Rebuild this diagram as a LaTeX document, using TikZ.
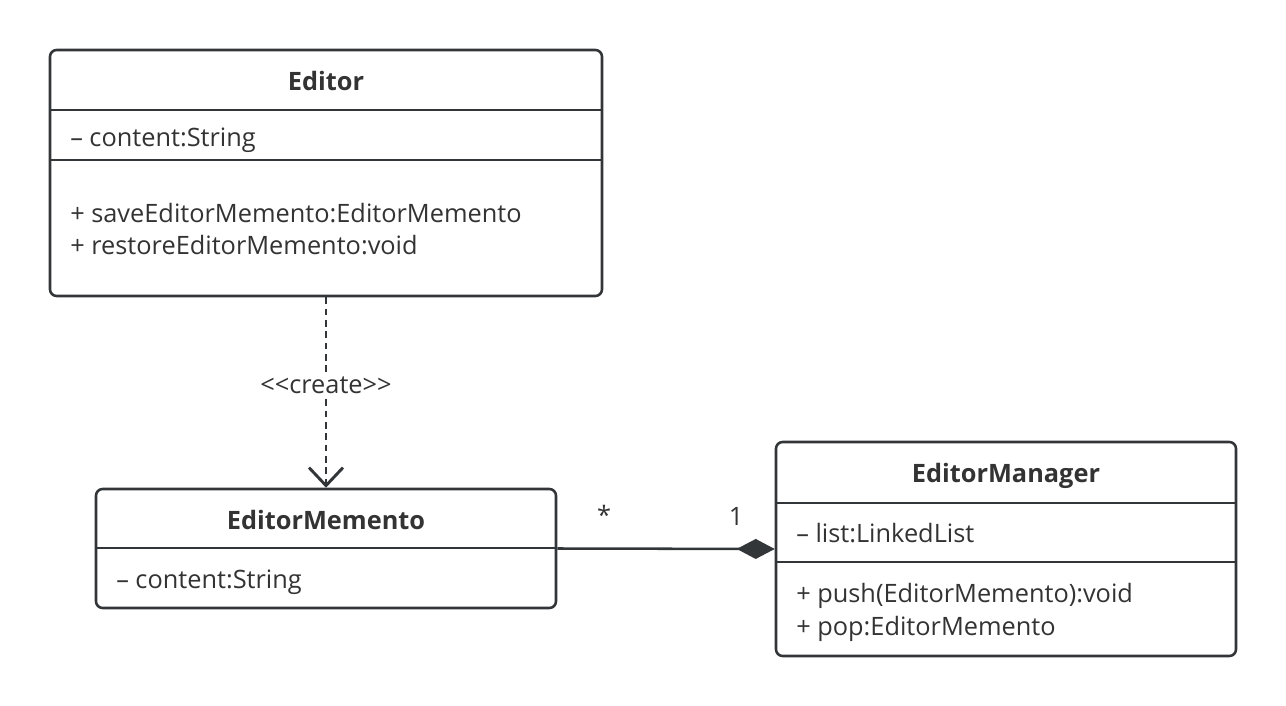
\documentclass[tikz,border=0pt]{standalone}
\usepackage{fontspec}
\setmainfont{Open Sans}
\usetikzlibrary{arrows.meta}
\definecolor{ink}{HTML}{323639}
\definecolor{txt}{HTML}{333333}
\tikzset{
  classbox/.style={draw=ink, line width=1.9pt, rounded corners=5pt, inner sep=0pt},
  divider/.style={draw=ink, line width=1.9pt},
  title/.style={font=\fontsize{19}{22}\selectfont\bfseries, text=txt, inner sep=0pt, anchor=base},
  member/.style={font=\fontsize{19}{22}\selectfont, text=txt, inner sep=0pt, anchor=base west},
  lbl/.style={font=\fontsize{19}{22}\selectfont, text=txt, inner sep=1pt},
}
\begin{document}
\begin{tikzpicture}[x=0.75pt,y=-0.75pt]
\useasboundingbox (0,0) rectangle (1286,706);
% Editor
\node[classbox, minimum width=414pt, minimum height=184.5pt] (editor) at (326,173) {};
\draw[divider] (50,110) -- (602,110);
\draw[divider] (50,160) -- (602,160);
\node[title] (editorT) at (326,90.5) {Editor};
\node[member] (editorA) at (70,147) {– content:String};
\node[member] (editorM1) at (70,223) {+ saveEditorMemento:EditorMemento};
\node[member] (editorM2) at (70,255) {+ restoreEditorMemento:void};
% EditorMemento
\node[classbox, minimum width=345pt, minimum height=89.25pt] (memento) at (326,548.5) {};
\draw[divider] (96,548) -- (556,548);
\node[title] (mementoT) at (326,529.5) {EditorMemento};
\node[member] (mementoA) at (116,588.5) {– content:String};
% EditorManager
\node[classbox, minimum width=345pt, minimum height=160.5pt] (manager) at (1006,549) {};
\draw[divider] (776,503) -- (1236,503);
\draw[divider] (776,562) -- (1236,562);
\node[title] (managerT) at (1006,482.5) {EditorManager};
\node[member] (managerA) at (796,542.5) {– list:LinkedList};
\node[member] (managerM1) at (796,602.5) {+ push(EditorMemento):void};
\node[member] (managerM2) at (796,635.5) {+ pop:EditorMemento};
% create dependency
\draw[draw=ink, line width=2.1pt, dash pattern=on 5pt off 3.5pt,
  -{Straight Barb[length=13.5pt, width=25.5pt, line width=2.2pt]}] (editor.south) -- node[lbl, fill=white, pos=0.46] (createL) {<{}<create>{}>} (memento.north);
% composition
\draw[draw=ink, line width=1.9pt, -{Diamond[length=28.5pt, width=15pt, fill=ink]}] (memento.east) -- (manager.west);
\node[lbl, anchor=base] (mult1) at (604,524) {*};
\node[lbl, anchor=base] (mult2) at (736,525) {1};
\end{tikzpicture}
\end{document}
